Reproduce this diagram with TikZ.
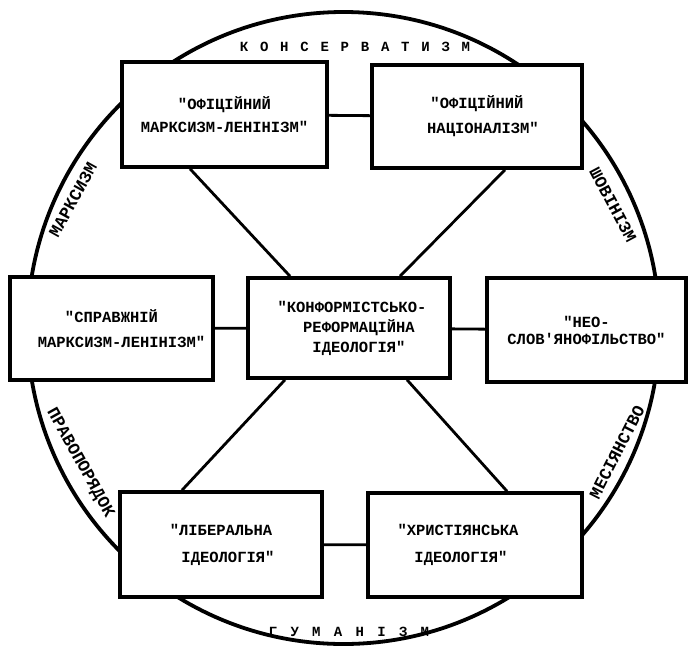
\documentclass[tikz,border=0pt]{standalone}
\usepackage{fontspec}
\setmainfont{Liberation Mono}[Ligatures=TeXOff, BoldFont={Liberation Mono Bold}]
\usetikzlibrary{calc}
\begin{document}
\begin{tikzpicture}[x=1pt,y=-1pt,
  box/.style={draw, line width=3.6pt, fill=white, rectangle, align=center, inner sep=0pt},
  boxfont/.style={font=\fontsize{15.5}{#1}\selectfont\bfseries},
  link/.style={line width=2.8pt},
  ring/.style={line width=3.8pt},
  arclabel/.style={inner sep=0pt, font=\fontsize{17}{17}\selectfont\bfseries},
  widelabel/.style={inner sep=0pt, font=\fontsize{14}{14}\selectfont\bfseries\addfontfeature{LetterSpace=#1}}]
\useasboundingbox (0,0) rectangle (688,646);
\coordinate (o) at (343.5,328);
\draw[ring] (o) circle[radius=316pt];

% boxes
\node[box, boxfont=23, minimum width=205pt, minimum height=105pt] (tl) at (224.5,114.5) {"ОФІЦІЙНИЙ\\МАРКСИЗМ-ЛЕНІНІЗМ"};
\node[box, boxfont=25, minimum width=210pt, minimum height=103pt] (tr) at (477,116.5) {"ОФІЦІЙНИЙ\\НАЦІОНАЛІЗМ"\hspace*{-12pt}};
\node[box, boxfont=25, minimum width=203pt, minimum height=103pt] (l) at (111.5,328.5) {"СПРАВЖНІЙ\\\hspace*{20pt}МАРКСИЗМ-ЛЕНІНІЗМ"};
\node[box, boxfont=20, minimum width=202pt, minimum height=100pt] (c) at (349,328) {\hspace*{6pt}"КОНФОРМІСТСЬКО-\\\hspace*{20pt}РЕФОРМАЦІЙНА\\\hspace*{20pt}ІДЕОЛОГІЯ"};
\node[box, boxfont=17, minimum width=199pt, minimum height=104pt] (r) at (586.5,330) {"НЕО-\\СЛОВ'ЯНОФІЛЬСТВО"};
\node[box, boxfont=27, minimum width=202pt, minimum height=105pt] (bl) at (221,544.5) {"ЛІБЕРАЛЬНА\\\hspace*{14pt}ІДЕОЛОГІЯ"};
\node[box, boxfont=27, minimum width=214pt, minimum height=104pt] (br) at (475,545) {"ХРИСТІЯНСЬКА\hspace*{34pt}\\ІДЕОЛОГІЯ"\hspace*{28pt}};

% connectors
\draw[link] (tl) -- (tr);
\draw[link] (l) -- (c);
\draw[link] (c) -- (r);
\draw[link] (bl) -- (br);
\draw[link] (tl.south -| 190,0) -- (c.north -| 290,0);
\draw[link] (tr.south -| 505,0) -- (c.north -| 400,0);
\draw[link] (bl.north -| 182,0) -- (c.south -| 285,0);
\draw[link] (br.north -| 507,0) -- (c.south -| 407,0);

% ring labels
\node[widelabel=84] (kons) at (355,47) {КОНСЕРВАТИЗМ};
\node[widelabel=95] (hum) at (349,632) {ГУМАНІЗМ};
\node[arclabel, rotate=61] (marx) at (73,200) {МАРКСИЗМ};
\node[arclabel, rotate=-62] (shov) at (613,205) {ШОВІНІЗМ};
\node[arclabel, rotate=63] (mes) at (617,452) {МЕСІЯНСТВО};
\node[arclabel, rotate=-61] (prav) at (80,463) {ПРАВОПОРЯДОК};
\end{tikzpicture}
\end{document}
